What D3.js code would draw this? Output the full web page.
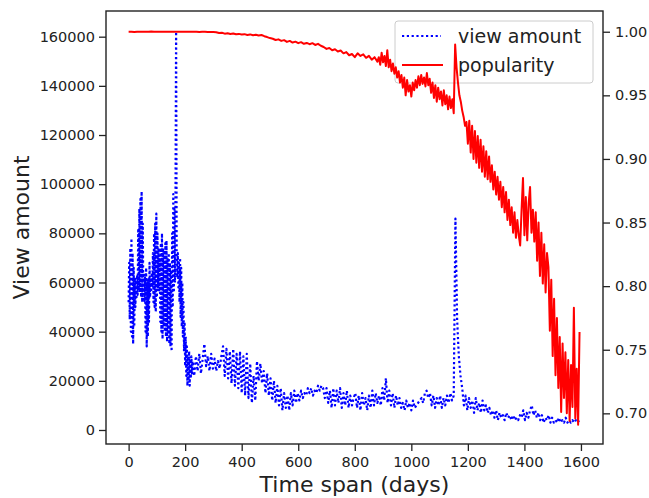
<!DOCTYPE html>
<html><head><meta charset="utf-8">
<script src="https://cdn.jsdelivr.net/npm/d3@7"></script>
<style>
body{margin:0;background:#fff}
svg{display:block}
text{font-family:"DejaVu Sans",sans-serif;fill:#222}
</style>
</head><body><svg id="c" width="649" height="498"></svg>
<script>
// ---------- data ----------
const xTicks = [0, 200, 400, 600, 800, 1000, 1200, 1400, 1600];
const viewTicks = [0, 20000, 40000, 60000, 80000, 100000, 120000, 140000, 160000];
const popTicks = [0.70, 0.75, 0.80, 0.85, 0.90, 0.95, 1.00];
const seriesNames = ["view amount", "popularity"];

// view amount (thousands), days 0..224 every 2 days
const viewEarlyStart = 0, viewEarlyStep = 2;
const viewEarlyK = [
  52,68,45,74,40,78,38,72,35,66,
  42,62,50,60,54,63,55,82,58,90,
  56,94,54,97,52,84,56,64,52,62,
  40,66,34,60,38,62,44,68,54,62,
  56,64,58,72,52,80,50,84,48,88,
  54,80,58,74,56,70,44,76,40,80,
  37,74,42,72,40,76,38,77,36,70,
  40,72,35,68,34,64,32,80,50,96,
  56,90,60,100,162,72,62,72,58,68,
  52,70,46,66,42,60,38,52,32,44,
  26,38,22,34,18,30,20,32,18,28,
  21,30,23
];
// view amount (thousands), days 226..1594 every 6 days
const viewLateStart = 226, viewLateStep = 6;
const viewLateK = [
  28,22,30,24,31,23,29,35,26,30,24,31,25,29,24,28,25,30,
  34,22,33,21,32,19,33,18,31,17,32,15,30,14,31,13,27,11,22,
  12,28,20,27,19,
  24,15,23,14,21,12,20,11,18,10,17,8,15,9,14,8,15,10,16,
  11,15,12,16,13,15,14,17,15,17,14,16,15,18,16,18,17,
  13,17,11,16,9,17,10,16,11,17,9,15,10,16,9,14,10,13,
  15,9,14,8,15,10,13,8,14,9,
  16,10,15,11,14,10,17,12,21,11,
  16,10,15,9,14,10,13,9,
  11,8,12,9,11,8,12,9,10,11,
  12,13,11,15,16,13,15,10,14,9,13,10,14,9,
  13,10,14,11,15,12,14,
  86,45,30,22,17,
  10,14,8,13,9,12,7,13,8,11,7,12,8,10,7,9,6,8,
  5,8,4,7,5,6,4,7,5,6,4,6,4,5,4,6,
  5,8,4,7,5,8,10,6,8,5,7,
  4,6,3,5,4,6,3,5,3,4,3,5,3,4,3,5,3,4,3,4,3,4,3,4
];
// popularity, days 0..880 every 10 days
const popEarlyStart = 0, popEarlyStep = 10;
const popEarly = [
  1.0000,1.0000,0.9998,1.0000,1.0000,0.9999,1.0000,1.0000,1.0001,1.0000,
  1.0000,1.0000,0.9999,1.0000,1.0000,1.0000,1.0000,1.0000,1.0000,0.9999,
  1.0000,1.0000,1.0000,0.9999,1.0000,0.9998,0.9999,0.9999,0.9998,0.9998,
  0.9997,
  0.9996,0.9990,0.9992,0.9985,0.9988,0.9982,0.9986,0.9980,0.9983,0.9978,0.9981,0.9975,0.9979,0.9972,0.9976,0.9970,0.9974,
  0.9965,0.9958,0.9950,0.9945,0.9935,0.9940,0.9928,0.9934,0.9920,0.9928,0.9915,
  0.9922,0.9910,0.9918,0.9905,0.9912,0.9902,0.9910,0.9896,0.9905,0.9890,0.9880,
  0.9865,0.9872,0.9855,0.9862,0.9845,0.9852,0.9830,0.9840,0.9815,0.9825,0.9800,
  0.9830,0.9810,0.9822,0.9795,0.9810,0.9780,0.9800,0.9765
];
// popularity, days 885..1595 every 5 days
const popLateStart = 885, popLateStep = 5;
const popLate = [
  0.9800,0.9740,0.9835,0.9760,0.9810,0.9730,0.9855,0.9720,0.9780,0.9690,0.9750,0.9670,0.9720,0.9640,0.9690,
  0.9600,0.9660,0.9560,0.9640,0.9500,0.9620,0.9530,0.9580,0.9490,0.9600,
  0.9540,0.9620,0.9560,0.9650,0.9580,0.9660,0.9590,0.9640,0.9570,0.9675,
  0.9580,0.9630,0.9520,0.9600,0.9480,0.9580,0.9450,0.9560,0.9470,0.9530,0.9420,0.9540,0.9430,0.9500,0.9390,0.9490,0.9400,0.9470,0.9360,
  0.9900,0.9720,0.9600,0.9500,0.9450,0.9380,0.9330,0.9260,0.9290,
  0.9120,0.9300,0.9050,0.9260,0.9000,0.9220,0.8970,0.9180,0.8930,0.9150,0.8900,0.9100,0.8860,0.9060,0.8840,0.9020,0.8820,
  0.8950,0.8760,0.8900,0.8720,0.8860,0.8680,0.8820,0.8620,0.8780,0.8580,0.8740,0.8520,0.8680,0.8480,0.8620,0.8420,0.8580,0.8380,0.8520,0.8400,
  0.8320,0.8600,0.8850,0.8400,0.8700,0.8360,0.8650,0.8780,0.8420,0.8600,
  0.8350,0.8580,0.8200,0.8500,0.8080,0.8420,0.8020,0.8330,0.7950,0.8260,
  0.8150,0.7650,0.8050,0.7450,0.7900,0.7300,0.7750,0.7200,0.7600,
  0.7010,0.7550,0.7120,0.7480,0.7000,0.7420,0.6940,0.7380,0.7050,0.7830,0.6960,0.7350,0.6910,0.7640
];

const viewData = viewEarlyK.map((v,i)=>({day:viewEarlyStart+i*viewEarlyStep, value:v*1000}))
  .concat(viewLateK.map((v,i)=>({day:viewLateStart+i*viewLateStep, value:v*1000})));
const popData = popEarly.map((v,i)=>({day:popEarlyStart+i*popEarlyStep, value:v}))
  .concat(popLate.map((v,i)=>({day:popLateStart+i*popLateStep, value:v})));

// ---------- layout ----------
const L=106, R=603, T=11, B=444;
const svg = d3.select("#c");
svg.append("rect").attr("width",649).attr("height",498).attr("fill","#fff");

const x = d3.scaleLinear().domain([-80,1678]).range([L,R]);
const yL = d3.scaleLinear().domain([-5700,170450]).range([B,T]);
const yR = d3.scaleLinear().domain([0.6759,1.0163]).range([B,T]);

svg.append("clipPath").attr("id","clip").append("rect")
  .attr("x",L).attr("y",T).attr("width",R-L).attr("height",B-T);

// view amount (dotted blue)
svg.append("path").datum(viewData)
  .attr("clip-path","url(#clip)")
  .attr("fill","none").attr("stroke","#0000ff").attr("stroke-width",2.2)
  .attr("stroke-dasharray","2.2,2.6").attr("stroke-linejoin","round")
  .attr("d", d3.line().x(d=>x(d.day)).y(d=>yL(d.value)));

// legend (belongs to left axes, below red line)
const lg = svg.append("g");
lg.append("rect").attr("x",395).attr("y",21).attr("width",198).attr("height",62)
  .attr("rx",3).attr("fill","#fff").attr("fill-opacity",0.8)
  .attr("stroke","#cccccc").attr("stroke-width",1);
lg.append("line").attr("x1",402).attr("x2",441).attr("y1",36).attr("y2",36)
  .attr("stroke","#0000ff").attr("stroke-width",2).attr("stroke-dasharray","2.2,2.6");
lg.append("line").attr("x1",402).attr("x2",443).attr("y1",65).attr("y2",65)
  .attr("stroke","#ff0000").attr("stroke-width",2);
lg.append("text").attr("x",458).attr("y",43).attr("font-size",19).text(seriesNames[0]);
lg.append("text").attr("x",458).attr("y",72).attr("font-size",19).text(seriesNames[1]);

// popularity (solid red)
svg.append("path").datum(popData)
  .attr("clip-path","url(#clip)")
  .attr("fill","none").attr("stroke","#ff0000").attr("stroke-width",2)
  .attr("stroke-linejoin","round")
  .attr("d", d3.line().x(d=>x(d.day)).y(d=>yR(d.value)));

// frame
svg.append("rect").attr("x",L).attr("y",T).attr("width",R-L).attr("height",B-T)
  .attr("fill","none").attr("stroke","#222").attr("stroke-width",1.4);

function styleAxis(g){
  g.select(".domain").remove();
  g.selectAll(".tick line").attr("stroke","#222").attr("stroke-width",1.3);
  g.selectAll(".tick text").attr("font-size",14.5).attr("fill","#222")
    .style("font-family",'"DejaVu Sans",sans-serif');
}
svg.append("g").attr("transform",`translate(0,${B})`)
  .call(d3.axisBottom(x).tickValues(xTicks).tickFormat(d3.format("d")).tickSize(7).tickPadding(6))
  .call(styleAxis);
svg.append("g").attr("transform",`translate(${L},0)`)
  .call(d3.axisLeft(yL).tickValues(viewTicks).tickFormat(d3.format("d")).tickSize(7).tickPadding(4))
  .call(styleAxis);
svg.append("g").attr("transform",`translate(${R},0)`)
  .call(d3.axisRight(yR).tickValues(popTicks).tickFormat(d3.format(".2f")).tickSize(7).tickPadding(5))
  .call(styleAxis);

// axis titles
svg.append("text").attr("x",(L+R)/2).attr("y",492).attr("text-anchor","middle")
  .attr("font-size",22).text("Time span (days)");
svg.append("text").attr("transform",`translate(28.5,${(T+B)/2}) rotate(-90)`)
  .attr("text-anchor","middle").attr("font-size",22).text("View amount");
</script>
</body></html>
